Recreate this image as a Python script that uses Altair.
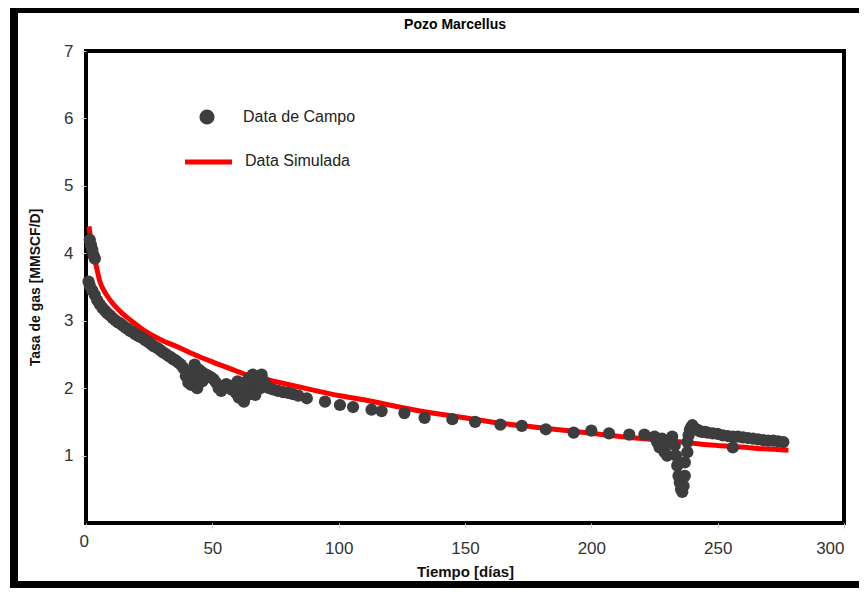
import altair as alt
import pandas as pd

# ---- data ----
chart_title = "Pozo Marcellus"
series_names = ["Data de Campo", "Data Simulada"]

t_campo = [
    1.5, 2.0, 2.5, 3.0, 3.5,
    1.0, 1.5, 2.5, 3.5, 4.5, 5.5, 6.5, 7.5, 8.5, 9.5, 10.5, 11.5, 12.5, 13.5, 14.5,
    15.5, 16.5, 17.5, 18.5, 19.5, 20.5, 21.5, 22.5, 23.5, 24.5, 25.5, 26.5, 27.5,
    28.5, 29.5, 30.5, 31.5, 32.5, 33.5, 34.5, 35.5, 36.5, 37.5, 38.5, 39.5, 40.5,
    41.5, 42.5, 43.5, 44.5, 45.5, 46.5, 47.5, 48.5, 49.5, 50.5, 51.5, 52.5, 53.5,
    54.5, 55.5, 56.5, 57.5, 58.5, 59.5, 60.5, 61.5, 62.5, 63.5, 64.5, 65.5, 66.5,
    67.5, 68.5, 69.5, 70.5, 71.5, 72.5, 74, 76, 78, 80, 82, 84,
    41, 43, 44, 45, 46, 60, 61, 62, 63, 64, 65, 66, 67, 69,
    87.4, 94.6, 100.5, 105.7, 113, 117, 126, 134, 145, 154, 164, 172.5, 182,
    193, 200, 207, 215, 221,
    225, 226, 227, 228, 229, 230, 231, 232, 233, 233.5, 234, 234.5, 235, 235.5,
    236, 236.5, 237, 237, 238, 238, 238.5, 239, 239.5, 240, 241, 242, 243, 244,
    245, 246, 248, 250, 252, 254, 256, 256, 258, 260, 262, 264, 266, 268, 270,
    272, 274, 276,
]
q_campo = [
    4.20, 4.12, 4.05, 3.97, 3.92,
    3.58, 3.52, 3.45, 3.38, 3.30, 3.24, 3.19, 3.15, 3.11, 3.08, 3.04, 3.01, 2.98, 2.96, 2.93,
    2.90, 2.88, 2.85, 2.83, 2.80, 2.78, 2.76, 2.74, 2.71, 2.69, 2.66, 2.63, 2.61,
    2.59, 2.56, 2.53, 2.51, 2.48, 2.46, 2.43, 2.41, 2.38, 2.35, 2.30, 2.18, 2.08,
    2.05, 2.12, 2.22, 2.28, 2.25, 2.22, 2.20, 2.18, 2.16, 2.13, 2.08, 2.00, 1.96,
    2.03, 2.06, 2.02, 1.98, 2.04, 1.92, 1.86, 1.90, 1.80, 2.10, 2.14, 2.02, 1.97,
    2.08, 2.16, 2.20, 2.10, 2.03, 2.00, 1.98, 1.96, 1.94, 1.93, 1.91, 1.89,
    2.25, 2.35, 2.00, 2.10, 2.10, 2.10, 2.00, 2.05, 1.95, 1.90, 2.15, 2.20, 1.90, 2.00,
    1.85, 1.80, 1.75, 1.72, 1.68, 1.66, 1.63, 1.56, 1.54, 1.50, 1.46, 1.44, 1.39,
    1.34, 1.37, 1.33, 1.31, 1.31,
    1.28, 1.20, 1.12, 1.25, 1.05, 1.00, 1.20, 1.28, 1.15, 1.00, 0.85, 0.70, 0.60, 0.50,
    0.46, 0.55, 0.70, 0.90, 1.05, 1.20, 1.30, 1.38, 1.42, 1.45, 1.40, 1.38, 1.36, 1.35,
    1.35, 1.34, 1.33, 1.32, 1.30, 1.29, 1.12, 1.28, 1.28, 1.27, 1.26, 1.25, 1.24, 1.23, 1.22,
    1.22, 1.21, 1.20,
]

t_sim = [1.2, 2, 3, 4, 5.5, 7.5, 10.5, 14, 17.5, 21, 24, 30, 37, 44, 50, 57, 63.5, 70,
         77, 84, 90, 100, 111, 124, 137, 150, 164, 176, 188, 200, 212, 224, 236, 246,
         258, 268, 278]
q_sim = [4.40, 4.18, 3.98, 3.82, 3.58, 3.42, 3.26, 3.12, 3.01, 2.91, 2.83, 2.71, 2.60,
         2.48, 2.39, 2.29, 2.20, 2.14, 2.08, 2.02, 1.97, 1.89, 1.82, 1.72, 1.63, 1.56,
         1.48, 1.43, 1.38, 1.33, 1.28, 1.24, 1.20, 1.16, 1.13, 1.10, 1.08]

x_ticks = [0, 50, 100, 150, 200, 250, 300]
y_ticks = [1, 2, 3, 4, 5, 6, 7]

FONT = "Liberation Sans"
W, H = 758, 472
PAD = {"left": 78, "top": 43, "right": 15, "bottom": 65}

df_campo = pd.DataFrame({"t": t_campo, "q": q_campo})
df_sim = pd.DataFrame({"t": t_sim, "q": q_sim})
dummy = pd.DataFrame({"a": [0]})

x_enc = alt.X("t:Q", scale=alt.Scale(domain=[0, 300], nice=False),
              axis=alt.Axis(values=x_ticks, format="d", title="Tiempo [días]",
                            labelOffset={"condition": {"test": "datum.value == 0", "value": -7},
                                         "value": 0},
                            labelPadding={"condition": {"test": "datum.value == 0", "value": 5},
                                          "value": 12},
                            titlePadding=8, titleFontSize=15))
y_enc = alt.Y("q:Q", scale=alt.Scale(domain=[0, 7], nice=False),
              axis=alt.Axis(values=y_ticks, format="d", title="Tasa de gas [MMSCF/D]",
                            labelPadding=8, titlePadding=21))

sim_line = alt.Chart(df_sim).mark_line(color="#ff0000", strokeWidth=5,
                                        interpolate="monotone").encode(x=x_enc, y=y_enc)
campo_pts = alt.Chart(df_campo).mark_circle(color="#3d3d3d", opacity=1, size=150).encode(
    x="t:Q", y="q:Q")

# legend drawn inside the plot
leg_dot = alt.Chart(dummy).mark_circle(color="#3d3d3d", opacity=1, size=230).encode(
    x=alt.value(121), y=alt.value(66))
leg_line = alt.Chart(dummy).mark_rule(color="#ff0000", strokeWidth=5).encode(
    x=alt.value(99), x2=alt.value(146), y=alt.value(111))
leg_txt1 = alt.Chart(pd.DataFrame({"label": [series_names[0]]})).mark_text(
    align="left", baseline="middle", font=FONT, fontSize=16, color="#222").encode(
    x=alt.value(157), y=alt.value(66), text="label:N")
leg_txt2 = alt.Chart(pd.DataFrame({"label": [series_names[1]]})).mark_text(
    align="left", baseline="middle", font=FONT, fontSize=16, color="#222").encode(
    x=alt.value(159), y=alt.value(110), text="label:N")

# chart title as a text mark above the plot
title_txt = alt.Chart(pd.DataFrame({"label": [chart_title]})).mark_text(
    align="center", baseline="middle", font=FONT, fontSize=14, fontWeight="bold",
    color="black").encode(x=alt.value(369), y=alt.value(-26), text="label:N")

# outer black frame of the picture
frame_left = alt.Chart(dummy).mark_rule(color="black", strokeWidth=8).encode(
    x=alt.value(-72), y=alt.value(-43), y2=alt.value(H + PAD["bottom"]))
frame_top = alt.Chart(dummy).mark_rule(color="black", strokeWidth=10).encode(
    x=alt.value(-76), x2=alt.value(W + PAD["right"]), y=alt.value(-43))
frame_bottom = alt.Chart(dummy).mark_rule(color="black", strokeWidth=8).encode(
    x=alt.value(-76), x2=alt.value(W + PAD["right"]), y=alt.value(H + PAD["bottom"] - 3))

chart = alt.layer(
    sim_line, campo_pts, leg_dot, leg_line, leg_txt1, leg_txt2, title_txt,
    frame_left, frame_top, frame_bottom,
).properties(
    width=W, height=H,
    autosize=alt.AutoSizeParams(type="none"),
    padding=PAD,
    background="white",
).configure_view(
    stroke="black", strokeWidth=4,
).configure_axis(
    grid=False, domain=False, tickColor="#cccccc", tickSize=5, tickWidth=1,
    labelFont=FONT, labelFontSize=17, labelColor="#333333",
    titleFont=FONT, titleFontSize=14, titleFontWeight="bold", titleColor="#111111",
)

chart.save("out.html", embed_options={"renderer": "svg", "actions": False})
